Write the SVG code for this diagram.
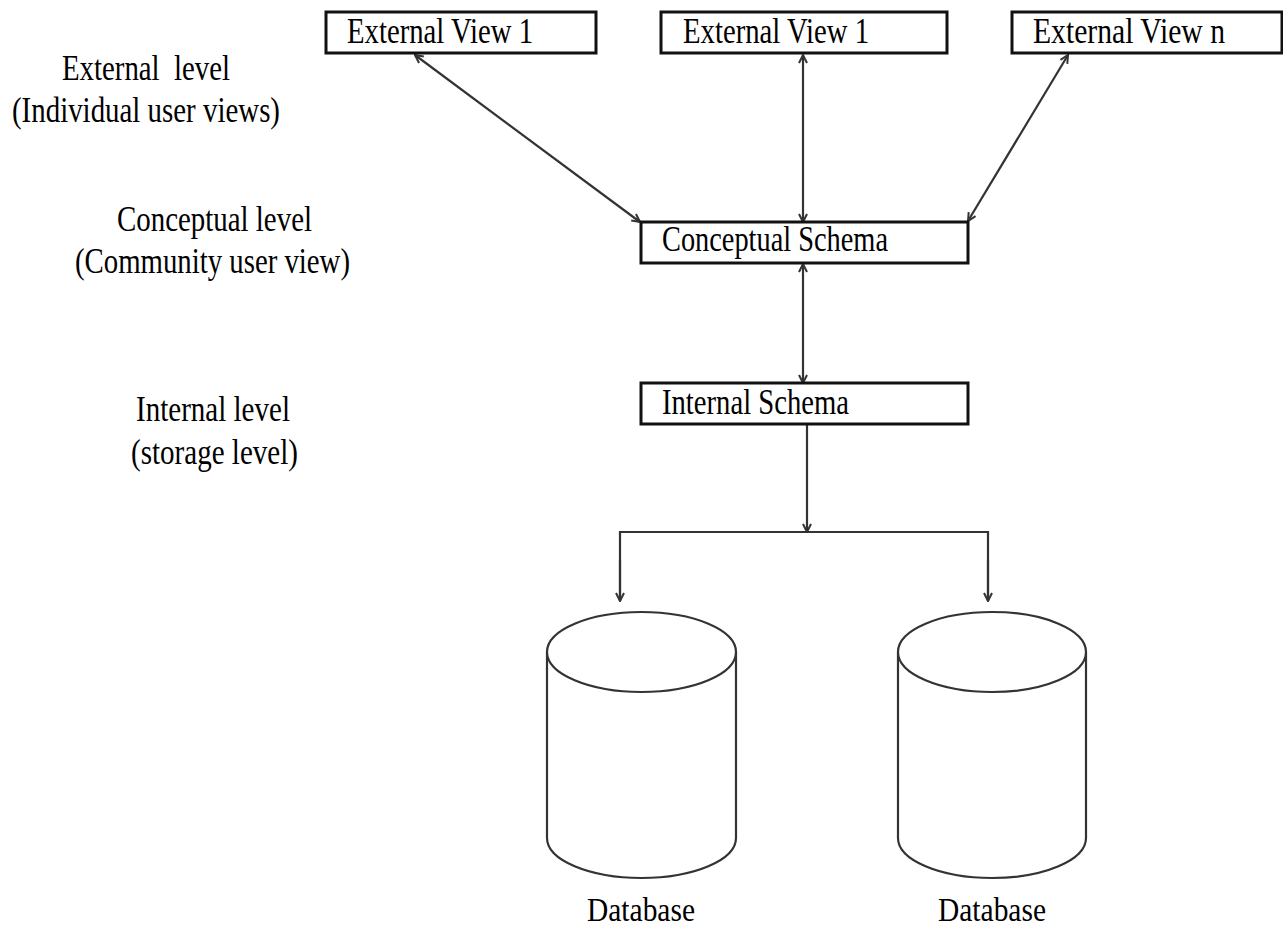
<svg xmlns="http://www.w3.org/2000/svg" width="1283" height="930" viewBox="0 0 1283 930">
  <style>
    .box { fill: #ffffff; stroke: #111111; stroke-width: 3; }
    .lbl { font-family: "Liberation Serif", "Times New Roman", serif; font-size: 30px; fill: #000000; }
    .cyl { fill: #ffffff; stroke: #333333; stroke-width: 2.2; }
    .conn { fill: none; stroke: #333333; stroke-width: 2.2; }
  </style>
  <defs>
    <marker id="vhead" viewBox="0 0 10 10" refX="9" refY="5" markerWidth="10" markerHeight="10" markerUnits="userSpaceOnUse" orient="auto-start-reverse">
      <path d="M1,1 L9,5 L1,9" fill="none" stroke="#333333" stroke-width="2"/>
    </marker>
  </defs>
  <rect width="1283" height="930" fill="#ffffff"/>

  <!-- level captions on the left -->
  <g id="level-labels">
    <text class="lbl" transform="translate(62,80) scale(1,1.22)" textLength="168" lengthAdjust="spacingAndGlyphs" xml:space="preserve">External  level</text>
    <text class="lbl" transform="translate(12,122) scale(1,1.22)" textLength="268" lengthAdjust="spacingAndGlyphs">(Individual user views)</text>
    <text class="lbl" transform="translate(117,231) scale(1,1.22)" textLength="195" lengthAdjust="spacingAndGlyphs">Conceptual level</text>
    <text class="lbl" transform="translate(75,273) scale(1,1.22)" textLength="275" lengthAdjust="spacingAndGlyphs">(Community user view)</text>
    <text class="lbl" transform="translate(136,421) scale(1,1.22)" textLength="154" lengthAdjust="spacingAndGlyphs">Internal level</text>
    <text class="lbl" transform="translate(131,464) scale(1,1.22)" textLength="167" lengthAdjust="spacingAndGlyphs">(storage level)</text>
  </g>

  <!-- connectors -->
  <g id="connectors">
    <line class="conn" x1="415" y1="55" x2="640" y2="222" marker-start="url(#vhead)" marker-end="url(#vhead)"/>
    <line class="conn" x1="803" y1="55" x2="803" y2="222" marker-start="url(#vhead)" marker-end="url(#vhead)"/>
    <line class="conn" x1="1068" y1="55" x2="968" y2="221" marker-start="url(#vhead)" marker-end="url(#vhead)"/>
    <line class="conn" x1="803" y1="264" x2="803" y2="383" marker-start="url(#vhead)" marker-end="url(#vhead)"/>
    <line class="conn" x1="807" y1="425" x2="807" y2="532" marker-end="url(#vhead)"/>
    <polyline class="conn" points="620,601 620,532 988,532 988,601" />
    <line class="conn" x1="620" y1="560" x2="620" y2="601" marker-end="url(#vhead)"/>
    <line class="conn" x1="988" y1="560" x2="988" y2="601" marker-end="url(#vhead)"/>
  </g>

  <!-- external views -->
  <g id="external-view-1a">
    <rect class="box" x="326" y="12" width="270" height="41"/>
    <text class="lbl" transform="translate(347,43) scale(1,1.22)" textLength="186" lengthAdjust="spacingAndGlyphs">External View 1</text>
  </g>
  <g id="external-view-1b">
    <rect class="box" x="661" y="12" width="286" height="41"/>
    <text class="lbl" transform="translate(683,43) scale(1,1.22)" textLength="186" lengthAdjust="spacingAndGlyphs">External View 1</text>
  </g>
  <g id="external-view-n">
    <rect class="box" x="1012" y="12" width="270" height="41"/>
    <text class="lbl" transform="translate(1033,43) scale(1,1.22)" textLength="192" lengthAdjust="spacingAndGlyphs">External View n</text>
  </g>

  <!-- conceptual schema -->
  <g id="conceptual-schema">
    <rect class="box" x="641" y="222" width="327" height="41"/>
    <text class="lbl" transform="translate(662,251) scale(1,1.22)" textLength="226" lengthAdjust="spacingAndGlyphs">Conceptual Schema</text>
  </g>

  <!-- internal schema -->
  <g id="internal-schema">
    <rect class="box" x="641" y="383" width="327" height="41"/>
    <text class="lbl" transform="translate(662,414) scale(1,1.22)" textLength="187" lengthAdjust="spacingAndGlyphs">Internal Schema</text>
  </g>

  <!-- databases -->
  <g id="database-1">
    <path class="cyl" d="M547,652 L547,838 A94.5,40 0 0 0 736,838 L736,652"/>
    <ellipse class="cyl" cx="641.5" cy="652" rx="94.5" ry="40"/>
    <text class="lbl" transform="translate(587,921) scale(1,1.15)" textLength="108" lengthAdjust="spacingAndGlyphs">Database</text>
  </g>
  <g id="database-2">
    <path class="cyl" d="M898,652 L898,838 A94,40 0 0 0 1086,838 L1086,652"/>
    <ellipse class="cyl" cx="992" cy="652" rx="94" ry="40"/>
    <text class="lbl" transform="translate(938,921) scale(1,1.15)" textLength="108" lengthAdjust="spacingAndGlyphs">Database</text>
  </g>
</svg>
